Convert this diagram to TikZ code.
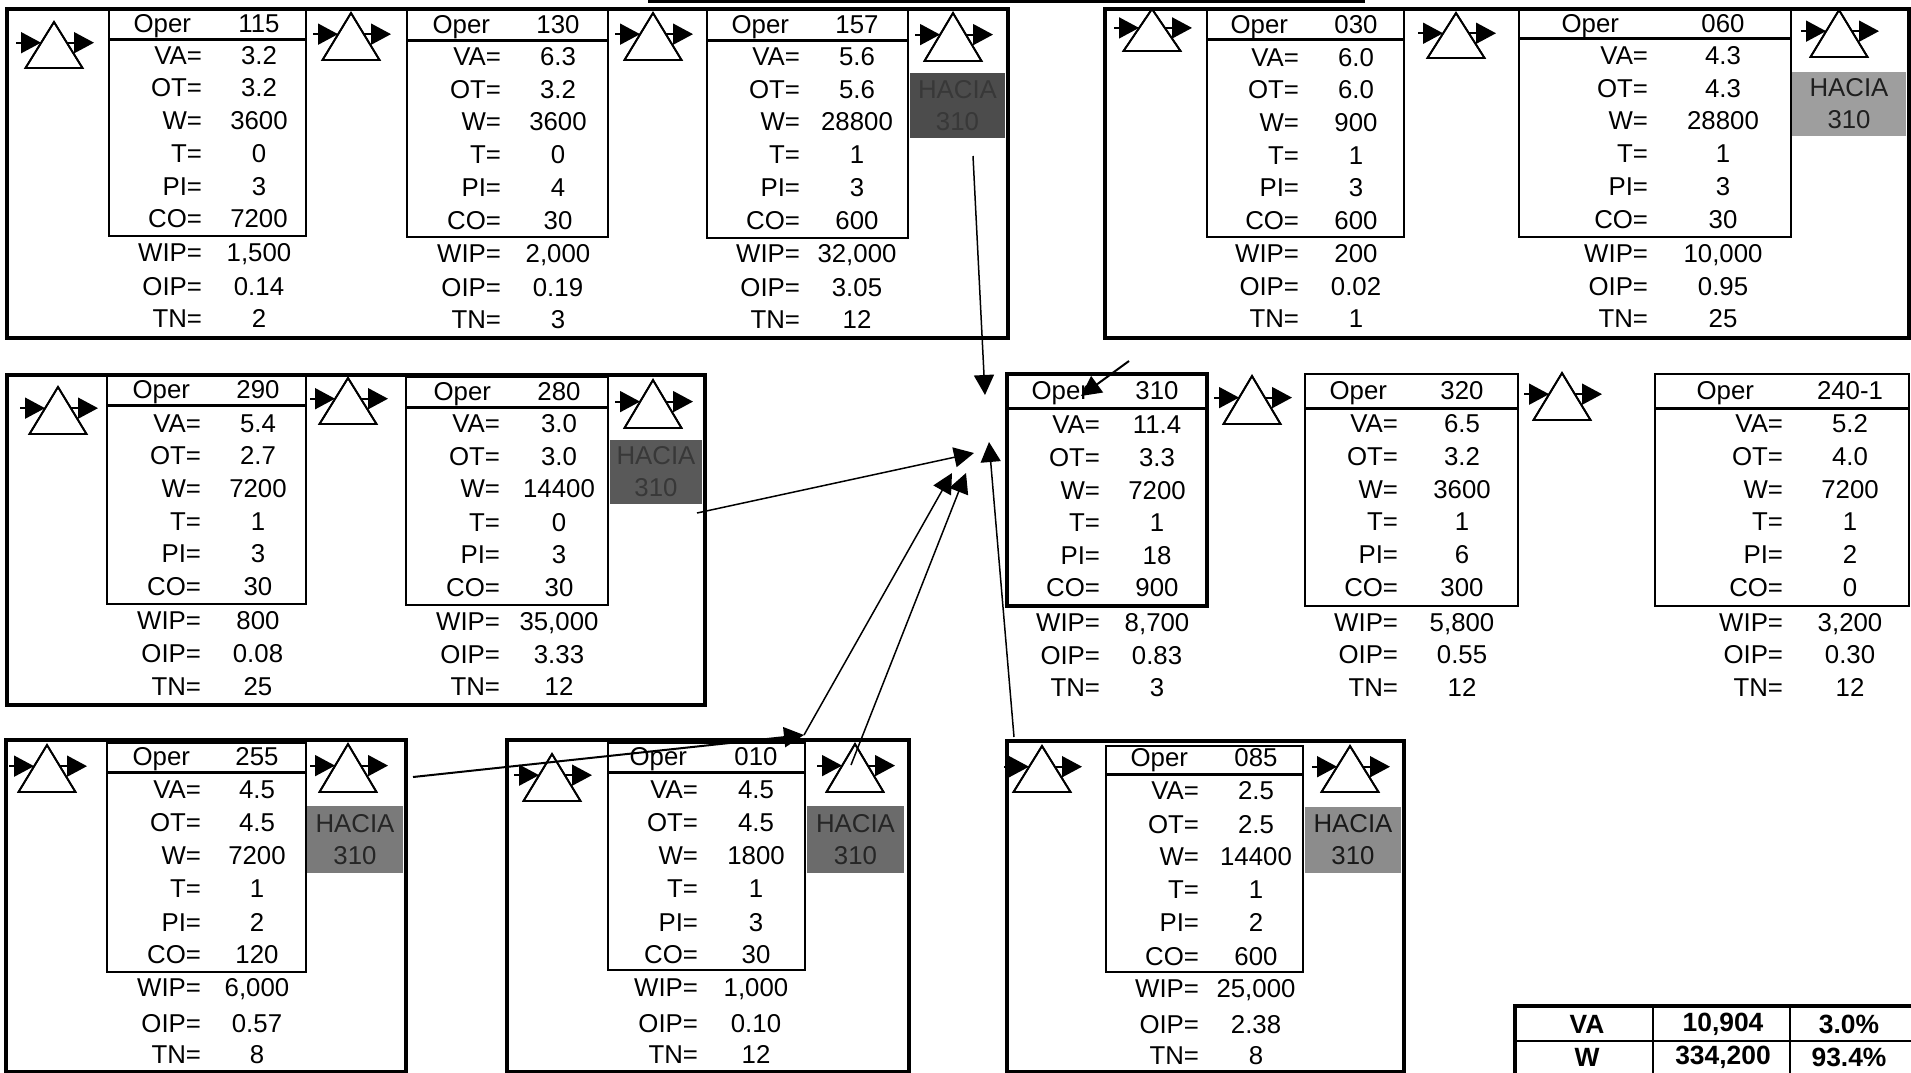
\documentclass[tikz,border=0pt]{standalone}
\usepackage{fontspec}
\setmainfont{Liberation Sans}
\usetikzlibrary{arrows.meta}
\tikzset{
  x=0.5pt,y=-0.5pt,
  outerfr/.style={draw=black,line width=2.4pt,anchor=north west,inner sep=0pt,outer sep=0pt},
  cardbox/.style={draw=black,line width=1pt,anchor=north west,inner sep=0pt,outer sep=0pt},
  cardboxthick/.style={draw=black,line width=2.2pt,anchor=north west,inner sep=0pt,outer sep=0pt},
  hdr/.style={line width=1.5pt},
  lab/.style={anchor=base east,inner sep=0pt,outer sep=0pt,yshift=-4.6pt,font=\fontsize{12.9}{14}\selectfont},
  val/.style={anchor=base,inner sep=0pt,outer sep=0pt,yshift=-4.6pt,font=\fontsize{12.9}{14}\selectfont},
  hacia/.style={anchor=north west,inner sep=0pt,outer sep=0pt,align=center,font=\fontsize{12.9}{16}\selectfont},
  tri/.style={draw=black,line width=0.9pt,line join=miter},
  triarrow/.style={line width=0.9pt,-{Triangle[length=10pt,width=10.5pt]}},
  flow/.style={line width=0.75pt,-{Triangle[length=10pt,width=10pt]}},
  flowbold/.style={line width=1pt,-{Triangle[length=10pt,width=10pt]}},
  tabtxt/.style={inner sep=0pt,anchor=center,font=\fontsize{13.2}{14}\bfseries\selectfont},
}
\newcommand\outerfr[5]{% id xl xr yt yb
  \node[outerfr,minimum width={(#3-#2)*0.5pt},minimum height={(#5-#4)*0.5pt}] (#1) at (#2,#4) {};}
\newcommand\hac[7]{% id xl xr yt yb gray textgray
  \definecolor{hg#1}{gray}{#6}\definecolor{ht#1}{gray}{#7}%
  \node[hacia,fill=hg#1,text=ht#1,minimum width={(#3-#2)*0.5pt},minimum height={(#5-#4)*0.5pt}] (#1) at (#2,#4) {HACIA\\310};}
\newcommand\triang[4]{% name cx ytop ybot
  \coordinate (#1-a) at (#2,#3);
  \coordinate (#1-bl) at ({#2-28.5},#4);
  \coordinate (#1-br) at ({#2+28.5},#4);
  \coordinate (#1-in) at ({#2-38},{#3+0.45*(#4-#3)});
  \coordinate (#1-it) at ({#2-13},{#3+0.45*(#4-#3)});
  \coordinate (#1-os) at ({#2+13},{#3+0.45*(#4-#3)});
  \coordinate (#1-ot) at ({#2+40},{#3+0.45*(#4-#3)});
  \draw[tri,fill=white] (#1-a) -- (#1-bl) -- (#1-br) -- cycle;
  \draw[triarrow] (#1-in) -- (#1-it);
  \draw[triarrow] (#1-os) -- (#1-ot);
  \draw[tri] (#1-a) -- (#1-bl) -- (#1-br) -- cycle;}
\def\setys#1|#2|#3|#4|#5|#6|#7|#8|#9|{\def\ya{#1}\def\yb{#2}\def\yc{#3}\def\yd{#4}\def\ye{#5}\def\yf{#6}\def\yg{#7}\def\yh{#8}\def\yi{#9}\setylast}
\def\setylast#1|{\def\yj{#1}}
\def\setvs#1|#2|#3|#4|#5|#6|#7|#8|#9|{\def\va{#1}\def\vb{#2}\def\vc{#3}\def\vd{#4}\def\ve{#5}\def\vf{#6}\def\vg{#7}\def\vh{#8}\def\vi{#9}\setvlast}
\def\setvlast#1|{\def\vj{#1}}
\newcommand\card[9]{% id xl xr yt yh yb xlab xval operoff
  \def\cid{#1}\def\xlab{#7}\def\xval{#8}\def\xoper{#9}%
  \node[\cstyle,minimum width={(#3-#2)*0.5pt},minimum height={(#6-#4)*0.5pt}] (#1) at (#2,#4) {};
  \draw[hdr] (#1.west |- 0,#5) -- (#1.east |- 0,#5);}
\def\cstyle{cardbox}
\newcommand\rowsof[2]{%
  \setys#1|\setvs#2|%
  \node[lab] (\cid-l1) at ({\xlab+\xoper},\ya) {Oper};
  \node[val] (\cid-v1) at (\xval,\ya) {\va};
  \node[lab] (\cid-l2) at (\xlab,\yb) {VA=};
  \node[val] (\cid-v2) at (\xval,\yb) {\vb};
  \node[lab] (\cid-l3) at (\xlab,\yc) {OT=};
  \node[val] (\cid-v3) at (\xval,\yc) {\vc};
  \node[lab] (\cid-l4) at (\xlab,\yd) {W=};
  \node[val] (\cid-v4) at (\xval,\yd) {\vd};
  \node[lab] (\cid-l5) at (\xlab,\ye) {T=};
  \node[val] (\cid-v5) at (\xval,\ye) {\ve};
  \node[lab] (\cid-l6) at (\xlab,\yf) {PI=};
  \node[val] (\cid-v6) at (\xval,\yf) {\vf};
  \node[lab] (\cid-l7) at (\xlab,\yg) {CO=};
  \node[val] (\cid-v7) at (\xval,\yg) {\vg};
  \node[lab] (\cid-l8) at (\xlab,\yh) {WIP=};
  \node[val] (\cid-v8) at (\xval,\yh) {\vh};
  \node[lab] (\cid-l9) at (\xlab,\yi) {OIP=};
  \node[val] (\cid-v9) at (\xval,\yi) {\vi};
  \node[lab] (\cid-l10) at (\xlab,\yj) {TN=};
  \node[val] (\cid-v10) at (\xval,\yj) {\vj};
}
\begin{document}
\begin{tikzpicture}
\clip (0,0) rectangle (1911,1072);
\fill[white] (0,0) rectangle (1911,1072);
% top remnant rule
\coordinate (topa) at (648,1.5);
\coordinate (topb) at (1365,1.5);
\draw[line width=1.6pt] (topa) -- (topb);
% frames
\outerfr{f1}{7}{1008}{9}{338}
\outerfr{f2}{1105}{1909}{9}{338}
\outerfr{f3}{7}{705}{375}{705}
\outerfr{f4}{6}{406}{740}{1072}
\outerfr{f5}{507}{909}{740}{1072}
\outerfr{f6}{1007}{1404}{741}{1072}
% hacia blocks
\hac{h157}{910}{1005}{73}{138}{0.30}{0.22}
\hac{h060}{1792}{1906}{72}{136}{0.62}{0.12}
\hac{h280}{610}{702}{440}{504}{0.35}{0.22}
\hac{h255}{307}{403}{806}{873}{0.48}{0.15}
\hac{h010}{807}{904}{806}{873}{0.42}{0.15}
\hac{h085}{1305}{1401}{807}{873}{0.55}{0.1}
% cards
\card{c115}{109}{306}{9}{39}{236}{202}{259}{-11}
\rowsof{23|55|87|120|153|186|218|252|286|318|}{115|3.2|3.2|3600|0|3|7200|1,500|0.14|2|}
\card{c130}{407}{608}{10}{40}{237}{501}{558}{-11}
\rowsof{24|56|89|121|154|187|220|253|287|319|}{130|6.3|3.2|3600|0|4|30|2,000|0.19|3|}
\card{c157}{707}{908}{10}{40}{238}{800}{857}{-11}
\rowsof{24|56|89|121|154|187|220|253|287|319|}{157|5.6|5.6|28800|1|3|600|32,000|3.05|12|}
\card{c030}{1207}{1404}{10}{39}{237}{1299}{1356}{-11}
\rowsof{24|57|89|122|155|187|220|253|286|318|}{030|6.0|6.0|900|1|3|600|200|0.02|1|}
\card{c060}{1519}{1791}{9}{38}{237}{1648}{1723}{-29}
\rowsof{23|55|88|120|153|186|219|253|286|318|}{060|4.3|4.3|28800|1|3|30|10,000|0.95|25|}
\card{c290}{107}{306}{376}{405}{604}{201}{258}{-11}
\rowsof{389|423|455|488|521|553|586|620|653|686|}{290|5.4|2.7|7200|1|3|30|800|0.08|25|}
\card{c280}{406}{608}{377}{407}{605}{500}{559}{-9}
\rowsof{391|423|456|488|522|554|587|621|654|686|}{280|3.0|3.0|14400|0|3|30|35,000|3.33|12|}
\def\cstyle{cardboxthick}
\card{c310}{1007}{1207}{374}{408}{606}{1100}{1157}{-11}
\rowsof{390|424|457|490|522|555|587|622|655|687|}{310|11.4|3.3|7200|1|18|900|8,700|0.83|3|}
\def\cstyle{cardbox}
\card{c320}{1305}{1518}{374}{408}{606}{1398}{1462}{-11}
\rowsof{390|423|456|489|521|554|587|622|654|687|}{320|6.5|3.2|3600|1|6|300|5,800|0.55|12|}
\card{c240}{1655}{1909}{374}{408}{606}{1783}{1850}{-29}
\rowsof{390|423|456|489|521|554|587|622|654|687|}{240-1|5.2|4.0|7200|1|2|0|3,200|0.30|12|}
\card{c255}{107}{306}{743}{772}{972}{201}{257}{-11}
\rowsof{756|789|822|855|888|922|954|987|1023|1054|}{255|4.5|4.5|7200|1|2|120|6,000|0.57|8|}
\card{c010}{608}{805}{743}{772}{970}{698}{756}{-11}
\rowsof{756|789|822|855|888|922|954|987|1023|1054|}{010|4.5|4.5|1800|1|3|30|1,000|0.10|12|}
\card{c085}{1106}{1303}{746}{774}{972}{1199}{1256}{-11}
\rowsof{757|790|824|856|889|922|956|988|1024|1055|}{085|2.5|2.5|14400|1|2|600|25,000|2.38|8|}
% triangles
\triang{t1}{54}{22}{68}
\triang{t2}{351}{13}{60}
\triang{t3}{653}{13}{60}
\triang{t4}{953}{13}{61}
\triang{t5}{1152}{9}{51}
\triang{t6}{1456}{13}{58}
\triang{t7}{1839}{10}{57}
\triang{t8}{58}{387}{434}
\triang{t9}{348}{378}{424}
\triang{t10}{653}{380}{428}
\triang{t11}{1252}{376}{424}
\triang{t12}{1562}{373}{420}
\triang{t13}{47}{745}{792}
\triang{t14}{348}{744}{792}
\triang{t15}{552}{754}{801}
\triang{t16}{855}{744}{792}
\triang{t17}{1042}{746}{792}
\triang{t18}{1350}{746}{792}
% summary table
\node[draw=black,line width=2.2pt,anchor=north west,inner sep=0pt,outer sep=0pt,minimum width=205pt,minimum height=40pt] (tab) at (1515,1006) {};
\draw[line width=1.2pt] (tab.west |- 0,1041) -- (tab.east |- 0,1041);
\draw[line width=1.2pt] (1653,0 |- tab.north) -- (1653,0 |- tab.south);
\draw[line width=1.2pt] (1790,0 |- tab.north) -- (1790,0 |- tab.south);
\node[tabtxt] (ta1) at (1587,1024) {VA};
\node[tabtxt] (ta2) at (1723,1024) {10,904};
\node[tabtxt] (ta3) at (1849,1024) {3.0\%};
\node[tabtxt] (tb1) at (1587,1057) {W};
\node[tabtxt] (tb2) at (1723,1057) {334,200};
\node[tabtxt] (tb3) at (1849,1057) {93.4\%};
% connectors
\coordinate (s157) at (973,156);
\coordinate (e157) at (985,395);
\draw[flow] (s157) -- (e157);
\coordinate (s060) at (1129,361);
\coordinate (e060) at (1081,396);
\draw[flowbold] (s060) -- (e060);
\coordinate (s280) at (697,513);
\coordinate (e280) at (974,453);
\draw[flow] (s280) -- (e280);
\coordinate (s255) at (413,777);
\coordinate (m255) at (804,735);
\draw[flowbold] (s255) -- (m255);
\coordinate (e255) at (952,473);
\draw[flow] (m255) -- (e255);
\coordinate (s010) at (851,765);
\coordinate (e010) at (966,473);
\draw[flow] (s010) -- (e010);
\coordinate (s085) at (1014,737);
\coordinate (e085) at (989,442);
\draw[flow] (s085) -- (e085);
\end{tikzpicture}
\end{document}
